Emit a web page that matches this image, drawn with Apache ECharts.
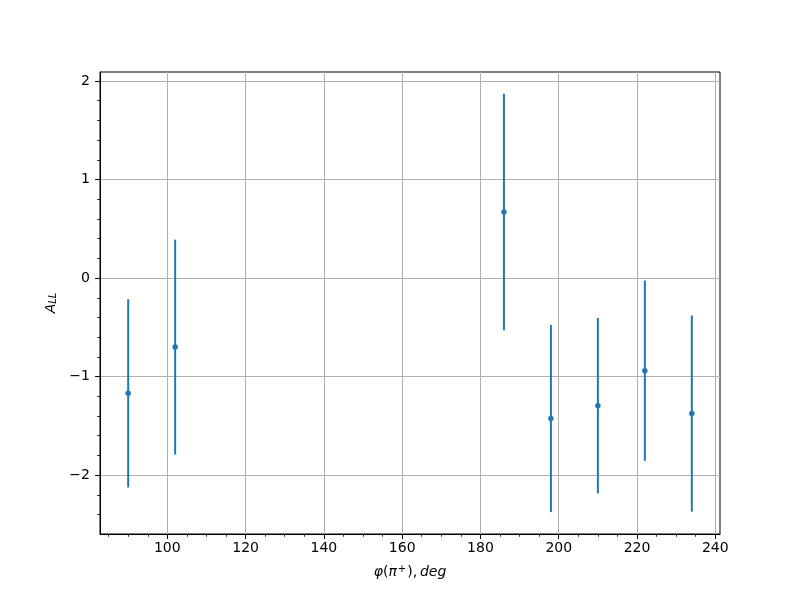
<!DOCTYPE html>
<html><head><meta charset="utf-8">
<script src="https://cdn.jsdelivr.net/npm/echarts@6/dist/echarts.min.js"></script>
<style>html,body{margin:0;padding:0;background:#fff}#c{width:800px;height:600px}</style>
</head><body><div id="c"></div>
<script>
// Data
const phi = [90, 102, 186, 198, 210, 222, 234];
const aLL = [-1.17, -0.70, 0.67, -1.425, -1.295, -0.94, -1.375];
const aErr = [0.955, 1.09, 1.20, 0.95, 0.89, 0.915, 0.995];
// Tick values
const xTicks = [100, 120, 140, 160, 180, 200, 220, 240];
const xMinor = [85, 90, 95, 105, 110, 115, 125, 130, 135, 145, 150, 155, 165, 170, 175, 185, 190, 195, 205, 210, 215, 225, 230, 235];
const yTicks = [-2, -1, 0, 1, 2];
const yMinor = [-2.4, -2.2, -1.8, -1.6, -1.4, -1.2, -0.8, -0.6, -0.4, -0.2, 0.2, 0.4, 0.6, 0.8, 1.2, 1.4, 1.6, 1.8];

const FONT = 'DejaVu Sans';
const C = '#1f77b4';
const X_MIN = 82.8, X_MAX = 241.2, Y_MIN = -2.597, Y_MAX = 2.091;

const points = phi.map((x, i) => [x, aLL[i], aErr[i]]);
const fmt = v => String(v).replace('-', '\u2212');

const chart = echarts.init(document.getElementById('c'), null, {renderer: 'canvas'});
chart.setOption({
  animation: false,
  backgroundColor: '#fff',
  grid: {left: 100, right: 80, top: 72, bottom: 66, containLabel: false,
         show: true, borderColor: '#000', borderWidth: 1, backgroundColor: 'transparent'},
  xAxis: [{
    type: 'value', min: X_MIN, max: X_MAX, position: 'bottom',
    name: '{i|\u03c6}{n|(}{i|\u03c0}{sup|+}{n|),\u2009}{i|deg}',
    nameLocation: 'middle', nameGap: 30,
    nameTextStyle: {
      rich: {
        i: {fontFamily: FONT, fontStyle: 'italic', fontSize: 14, color: '#000'},
        n: {fontFamily: FONT, fontSize: 14, color: '#000'},
        sup: {fontFamily: FONT, fontStyle: 'normal', fontSize: 10, color: '#000', verticalAlign: 'top', padding: [0, 1, 7, 1]}
      }
    },
    axisLine: {show: true, onZero: false, lineStyle: {color: '#000', width: 1}},
    axisTick: {show: true, customValues: xTicks, length: 4.9, inside: false, lineStyle: {color: '#000', width: 1}},
    axisLabel: {show: true, customValues: xTicks, formatter: fmt, margin: 7,
                fontFamily: FONT, fontSize: 14, color: '#000'},
    splitLine: {show: true, lineStyle: {color: '#b0b0b0', width: 1}}
  }, {
    type: 'value', min: X_MIN, max: X_MAX, position: 'bottom', offset: 0,
    axisLine: {show: false, onZero: false},
    axisTick: {show: true, customValues: xMinor, length: 2.8, lineStyle: {color: '#000', width: 0.8}},
    axisLabel: {show: false},
    splitLine: {show: false}
  }],
  yAxis: [{
    type: 'value', min: Y_MIN, max: Y_MAX, position: 'left',
    name: '{i|A}{sub|LL}',
    nameLocation: 'middle', nameGap: 36, nameRotate: 90,
    nameTextStyle: {
      rich: {
        i: {fontFamily: FONT, fontStyle: 'italic', fontSize: 14, color: '#000'},
        sub: {fontFamily: FONT, fontStyle: 'italic', fontSize: 10, color: '#000', verticalAlign: 'bottom', padding: [5, 0, 0, 0]}
      }
    },
    axisLine: {show: true, onZero: false, lineStyle: {color: '#000', width: 1}},
    axisTick: {show: true, customValues: yTicks, length: 4.9, lineStyle: {color: '#000', width: 1}},
    axisLabel: {show: true, customValues: yTicks, formatter: fmt, margin: 10,
                fontFamily: FONT, fontSize: 14, color: '#000'},
    splitLine: {show: true, lineStyle: {color: '#b0b0b0', width: 1}}
  }, {
    type: 'value', min: Y_MIN, max: Y_MAX, position: 'left', offset: 0,
    axisLine: {show: false, onZero: false},
    axisTick: {show: true, customValues: yMinor, length: 2.8, lineStyle: {color: '#000', width: 0.8}},
    axisLabel: {show: false},
    splitLine: {show: false}
  }],
  series: [{
    type: 'custom',
    xAxisIndex: 0, yAxisIndex: 0,
    data: points,
    encode: {x: 0, y: 1},
    renderItem: function (params, api) {
      const x = api.value(0), y = api.value(1), e = api.value(2);
      const p1 = api.coord([x, y - e]);
      const p2 = api.coord([x, y + e]);
      return {
        type: 'line',
        shape: {x1: p1[0], y1: p1[1], x2: p2[0], y2: p2[1]},
        style: {stroke: C, lineWidth: 2}
      };
    },
    z: 3
  }, {
    type: 'scatter',
    xAxisIndex: 0, yAxisIndex: 0,
    data: points.map(p => [p[0], p[1]]),
    symbol: 'circle', symbolSize: 5.5,
    itemStyle: {color: C, opacity: 1},
    z: 4
  }]
});
</script></body></html>
